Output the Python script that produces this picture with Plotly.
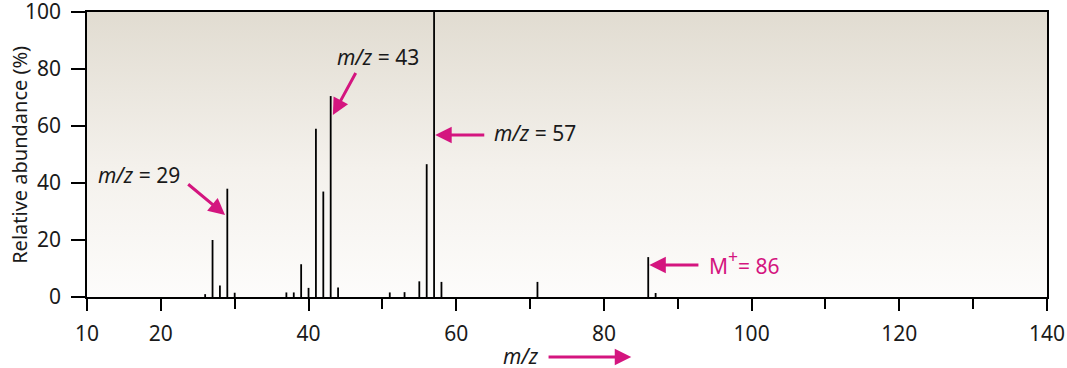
import plotly.graph_objects as go

# Data
mz = [26, 27, 28, 29, 30, 37, 38, 39, 40, 41, 42, 43, 44, 51, 53, 55, 56, 57, 58, 71, 86, 87]
abundance = [1, 20, 4, 38, 1.5, 1.6, 1.6, 11.5, 3.2, 59, 37, 70.5, 3.3, 1.6, 1.7, 5.5, 46.6, 100, 5.3, 5.3, 14, 1.4]
x_tickvals = [10, 20, 40, 60, 80, 100, 120, 140]
x_minor = [30, 50, 70, 90, 110, 130]
y_tickvals = [0, 20, 40, 60, 80, 100]

MAG = "#d4157f"
TXT = "#1a1a1a"
FONT = "Noto Sans"

fig = go.Figure()

# gradient background
fig.add_trace(go.Scatter(
    x=[10, 140, 140, 10, 10], y=[0, 0, 100, 100, 0],
    fill="toself", mode="lines", line=dict(width=0),
    fillgradient=dict(type="vertical", start=0, stop=100,
                      colorscale=[[0, "#fdfcfb"], [0.45, "#f4f1ec"], [1, "#e1dcd1"]]),
    hoverinfo="skip", showlegend=False,
))

# stick spectrum
xs, ys = [], []
for m, a in zip(mz, abundance):
    xs += [m, m, None]
    ys += [0, a, None]
fig.add_trace(go.Scatter(x=xs, y=ys, mode="lines",
                         line=dict(color="black", width=1.8),
                         hoverinfo="skip", showlegend=False))

annotations = []
def arrow(x, y, ax, ay):
    annotations.append(dict(x=x, y=y, ax=ax, ay=ay, xref="x", yref="y", axref="x", ayref="y",
                            text="", showarrow=True, arrowhead=2, arrowsize=1.1,
                            arrowwidth=3, arrowcolor=MAG))

def label(x, y, text, xanchor="center", color=TXT):
    annotations.append(dict(x=x, y=y, xref="x", yref="y", text=text, showarrow=False,
                            xanchor=xanchor, yanchor="middle",
                            font=dict(family=FONT, size=21, color=color)))

label(17.0, 42.8, "<i>m/z</i> = 29")
arrow(28.7, 28.8, 23.5, 40.0)
label(49.4, 84.1, "<i>m/z</i> = 43")
arrow(43.3, 63.9, 46.5, 79.1)
label(64.9, 57.5, "<i>m/z</i> = 57", xanchor="left")
arrow(57.15, 56.8, 64.0, 56.8)
label(93.9, 12.3, "M<span style='font-size:25px'><sup>+</sup></span>= 86", xanchor="left", color=MAG)
arrow(86.15, 11.2, 93.0, 11.2)

# x axis title with arrow
annotations.append(dict(x=0.452, y=-0.2070, xref="paper", yref="paper", text="<i>m/z</i>",
                        showarrow=False, xanchor="center", yanchor="middle",
                        font=dict(family=FONT, size=21, color=TXT)))
annotations.append(dict(x=83.7, y=-0.2105, xref="x", yref="paper", ax=72.3, ay=0,
                        axref="x", ayref="pixel", text="", showarrow=True, arrowhead=2,
                        arrowsize=1.1, arrowwidth=3, arrowcolor=MAG))
# y axis title
annotations.append(dict(x=-0.0705, y=0.5, xref="paper", yref="paper",
                        text="Relative abundance (%)", textangle=-90, showarrow=False,
                        xanchor="center", yanchor="middle",
                        font=dict(family=FONT, size=20, color=TXT)))

fig.update_layout(
    template="none",
    width=1067, height=368,
    margin=dict(l=87, r=20, t=12, b=71, autoexpand=False),
    paper_bgcolor="white", plot_bgcolor="white",
    font=dict(family=FONT, size=21, color=TXT),
    annotations=annotations,
    xaxis=dict(range=[10, 140], tickvals=x_tickvals, ticks="outside", ticklen=12,
               tickwidth=1.5, tickcolor="black", showline=True, linecolor="black",
               linewidth=1.5, mirror=True, showgrid=False, zeroline=False,
               automargin=False, ticklabelstandoff=5, ticklabeloverflow="allow",
               tickfont=dict(family=FONT, size=21, color=TXT),
               minor=dict(tickvals=x_minor, ticks="outside", ticklen=10,
                          tickwidth=1.5, tickcolor="black")),
    yaxis=dict(range=[0, 100], tickvals=y_tickvals, ticks="outside", ticklen=14,
               tickwidth=1.5, tickcolor="black", showline=True, linecolor="black",
               linewidth=1.5, mirror=True, showgrid=False, zeroline=False,
               automargin=False, ticklabelstandoff=6, ticklabeloverflow="allow",
               tickfont=dict(family=FONT, size=21, color=TXT)),
)

fig.write_html("out.html", config={"displayModeBar": False},
               post_script="document.body.style.margin='0';")
